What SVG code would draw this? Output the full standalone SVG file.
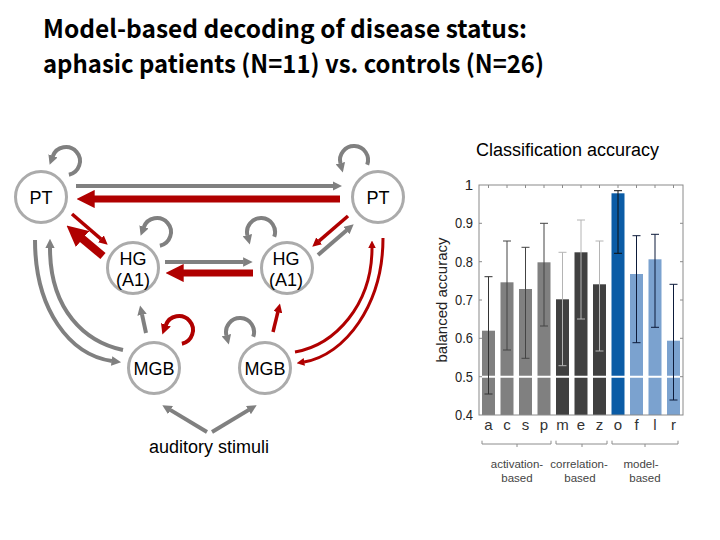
<svg xmlns="http://www.w3.org/2000/svg" width="720" height="540" viewBox="0 0 720 540">
<style>
.title{font-family:"Noto Sans CJK JP","Noto Sans",sans-serif;font-weight:bold;font-size:25px;fill:#000}
.lbl{font-family:"Liberation Sans",Arial,sans-serif;font-size:18px;fill:#000;text-anchor:middle}
.node{fill:#fff;stroke:#ababab;stroke-width:3}
.g{fill:none;stroke:#808080;stroke-width:4}
.r{fill:none;stroke:#b00000}
.ax{fill:none;stroke:#8a8a8a;stroke-width:1}
.tick{font-family:"Liberation Sans",Arial,sans-serif;font-size:15px;fill:#222;text-anchor:end}
.cat{font-family:"Liberation Sans",Arial,sans-serif;font-size:15px;fill:#333;text-anchor:middle}
.grp{font-family:"Liberation Sans",Arial,sans-serif;font-size:11.5px;fill:#444;text-anchor:middle}
.br{fill:none;stroke:#8c8c8c;stroke-width:1}
</style>
<defs>
<marker id="mg" viewBox="0 0 2.4 2.4" refX="0.1" refY="1.2" markerWidth="2.4" markerHeight="2.4" orient="auto" markerUnits="strokeWidth"><path d="M0,0L2.4,1.2L0,2.4z" fill="#808080"/></marker>
<marker id="mr" viewBox="0 0 2.6 2.6" refX="0.1" refY="1.3" markerWidth="2.6" markerHeight="2.6" orient="auto" markerUnits="strokeWidth"><path d="M0,0L2.6,1.3L0,2.6z" fill="#b00000"/></marker>
</defs>
<rect width="720" height="540" fill="#fff"/>
<text class="title" x="43" y="38" textLength="484" lengthAdjust="spacingAndGlyphs">Model-based decoding of disease status:</text>
<text class="title" x="43" y="73" textLength="501" lengthAdjust="spacingAndGlyphs">aphasic patients (N=11) vs. controls (N=26)</text>

<g id="connectors">
<path class="g" d="M76,186 L333,186" marker-end="url(#mg)"/>
<path class="r" stroke-width="7" d="M340,199 L94,199" marker-end="url(#mr)"/>
<path class="g" d="M165,262 L243.5,262" marker-end="url(#mg)"/>
<path class="r" stroke-width="7" d="M253,273 L183,273" marker-end="url(#mr)"/>
<path class="r" stroke-width="3.5" d="M72,214 L101.1,239.1" marker-end="url(#mr)"/>
<path class="r" stroke-width="8" d="M103,256 L81.9,238.4" marker-end="url(#mr)"/>
<path class="r" stroke-width="3.5" d="M348,216 L318.9,241.1" marker-end="url(#mr)"/>
<path class="g" d="M318,255 L346.7,230.3" marker-end="url(#mg)"/>
<path class="g" d="M146,333 L142,314.4" marker-end="url(#mg)"/>
<path class="r" stroke-width="3.5" d="M273,332 L277.9,311.9" marker-end="url(#mr)"/>
<path class="g" d="M35,240 C35,310 70,355 112,361" marker-end="url(#mg)"/>
<path class="g" d="M123,350 C85,342 50,310 50,248" marker-end="url(#mg)"/>
<path class="r" stroke-width="3" d="M295,352 C335,345 372,305 372,248" marker-end="url(#mr)"/>
<path class="r" stroke-width="3" d="M383,238 C383,305 345,355 304,362" marker-end="url(#mr)"/>
<path class="g" d="M207,432 L170.2,409.9" marker-end="url(#mg)"/>
<path class="g" d="M212,432 L248.8,409.9" marker-end="url(#mg)"/>
<path class="g" d="M68.9,174.7 A14,14 0 1 0 52.8,156.2" marker-end="url(#mg)"/>
<path class="g" d="M159.9,245.7 A14,14 0 1 0 143.8,227.2" marker-end="url(#mg)"/>
<path class="r" stroke-width="4" d="M181.9,343.7 A14,14 0 1 0 165.8,325.2" marker-end="url(#mr)"/>
<path class="g" d="M367.2,164.8 A14,14 0 1 0 340.5,163.6" marker-end="url(#mg)"/>
<path class="g" d="M274.2,236.8 A14,14 0 1 0 247.5,235.6" marker-end="url(#mg)"/>
<path class="g" d="M253.2,336.8 A14,14 0 1 0 226.5,335.6" marker-end="url(#mg)"/>
</g>

<g id="node-pt-left"><circle class="node" cx="41" cy="197" r="25.5"/><text class="lbl" x="41" y="204">PT</text></g>
<g id="node-pt-right"><circle class="node" cx="378" cy="197" r="25.5"/><text class="lbl" x="378" y="204">PT</text></g>
<g id="node-hg-left"><circle class="node" cx="133" cy="268" r="25.5"/><text class="lbl" x="133" y="265">HG</text><text class="lbl" x="133" y="286">(A1)</text></g>
<g id="node-hg-right"><circle class="node" cx="287" cy="268" r="25.5"/><text class="lbl" x="286" y="265">HG</text><text class="lbl" x="286" y="286">(A1)</text></g>
<g id="node-mgb-left"><circle class="node" cx="154" cy="368" r="25.5"/><text class="lbl" x="154" y="375">MGB</text></g>
<g id="node-mgb-right"><circle class="node" cx="265" cy="368" r="25.5"/><text class="lbl" x="265" y="375">MGB</text></g>
<g id="node-stimuli"><text class="lbl" x="209" y="453">auditory stimuli</text></g>

<g id="chart">
<text x="476" y="156" font-family="Liberation Sans, Arial, sans-serif" font-size="18" fill="#000">Classification accuracy</text>
<g id="bars">
<rect x="482" y="330.7" width="13" height="84.3" fill="#808080"/>
<rect x="500.5" y="282.3" width="13" height="132.7" fill="#808080"/>
<rect x="519" y="289" width="13" height="126" fill="#808080"/>
<rect x="537.5" y="262.3" width="13" height="152.7" fill="#808080"/>
<rect x="556" y="299.3" width="13" height="115.7" fill="#404040"/>
<rect x="574.5" y="252.3" width="13" height="162.7" fill="#404040"/>
<rect x="593" y="284.3" width="13" height="130.7" fill="#404040"/>
<rect x="611.5" y="193.3" width="13" height="221.7" fill="#0b5ca6"/>
<rect x="630" y="274" width="13" height="141" fill="#7ba2cf"/>
<rect x="648.5" y="259.3" width="13" height="155.7" fill="#7ba2cf"/>
<rect x="667" y="340.7" width="13" height="74.3" fill="#7ba2cf"/>
</g>
<line x1="479" y1="376.7" x2="683" y2="376.7" stroke="#fff" stroke-width="2"/>
<g id="errorbars" fill="none" stroke-width="1">
<path stroke="#333" d="M488.5,276.7V394M484.5,276.7H492.5M484.5,394H492.5"/>
<path stroke="#444" d="M507,241V350M503,241H511M503,350H511"/>
<path stroke="#444" d="M525.5,247.3V358.3M521.5,247.3H529.5M521.5,358.3H529.5"/>
<path stroke="#444" d="M544,223.3V326M540,223.3H548M540,326H548"/>
<path stroke="#b4b4b4" d="M562.5,252.3V365.7M558.5,252.3H566.5M558.5,365.7H566.5"/>
<path stroke="#b4b4b4" d="M581,220V319M577,220H585M577,319H585"/>
<path stroke="#b4b4b4" d="M599.5,241V351M595.5,241H603.5M595.5,351H603.5"/>
<path stroke="#111" d="M618,190.7V253.3M614,190.7H622M614,253.3H622"/>
<path stroke="#0d1b3a" d="M636.5,235.7V342.7M632.5,235.7H640.5M632.5,342.7H640.5"/>
<path stroke="#0d1b3a" d="M655,234.3V327.3M651,234.3H659M651,327.3H659"/>
<path stroke="#0d1b3a" d="M673.5,284.3V400M669.5,284.3H677.5M669.5,400H677.5"/>
</g>
<rect class="ax" x="479" y="185" width="204" height="230"/>
<path class="ax" d="M479,223.3h3M479,261.7h3M479,300h3M479,338.3h3M479,376.7h3M683,223.3h-3M683,261.7h-3M683,300h-3M683,338.3h-3M683,376.7h-3M488.5,185v3M507,185v3M525.5,185v3M544,185v3M562.5,185v3M581,185v3M599.5,185v3M618,185v3M636.5,185v3M655,185v3M673.5,185v3"/>
<text class="tick" x="473" y="190">1</text>
<text class="tick" x="473" y="228.3" textLength="18" lengthAdjust="spacingAndGlyphs">0.9</text>
<text class="tick" x="473" y="266.7" textLength="18" lengthAdjust="spacingAndGlyphs">0.8</text>
<text class="tick" x="473" y="305" textLength="18" lengthAdjust="spacingAndGlyphs">0.7</text>
<text class="tick" x="473" y="343.3" textLength="18" lengthAdjust="spacingAndGlyphs">0.6</text>
<text class="tick" x="473" y="381.7" textLength="18" lengthAdjust="spacingAndGlyphs">0.5</text>
<text class="tick" x="473" y="420" textLength="18" lengthAdjust="spacingAndGlyphs">0.4</text>
<text transform="translate(447,300) rotate(-90)" text-anchor="middle" font-family="Liberation Sans, Arial, sans-serif" font-size="15" fill="#222">balanced accuracy</text>
<text class="cat" x="488.5" y="430">a</text>
<text class="cat" x="507" y="430">c</text>
<text class="cat" x="525.5" y="430">s</text>
<text class="cat" x="544" y="430">p</text>
<text class="cat" x="562.5" y="430">m</text>
<text class="cat" x="581" y="430">e</text>
<text class="cat" x="599.5" y="430">z</text>
<text class="cat" x="618" y="430">o</text>
<text class="cat" x="636.5" y="430">f</text>
<text class="cat" x="655" y="430">l</text>
<text class="cat" x="673.5" y="430">r</text>
<path class="br" d="M482,440.7V444H551V440.7M517,444V447M556,440.7V444H607V440.7M582,444V447M612,440.7V444H678V440.7M645,444V447"/>
<text class="grp" x="517" y="468">activation-</text>
<text class="grp" x="517" y="482">based</text>
<text class="grp" x="579" y="468">correlation-</text>
<text class="grp" x="580" y="482">based</text>
<text class="grp" x="641" y="468">model-</text>
<text class="grp" x="645" y="482">based</text>
</g>
</svg>
